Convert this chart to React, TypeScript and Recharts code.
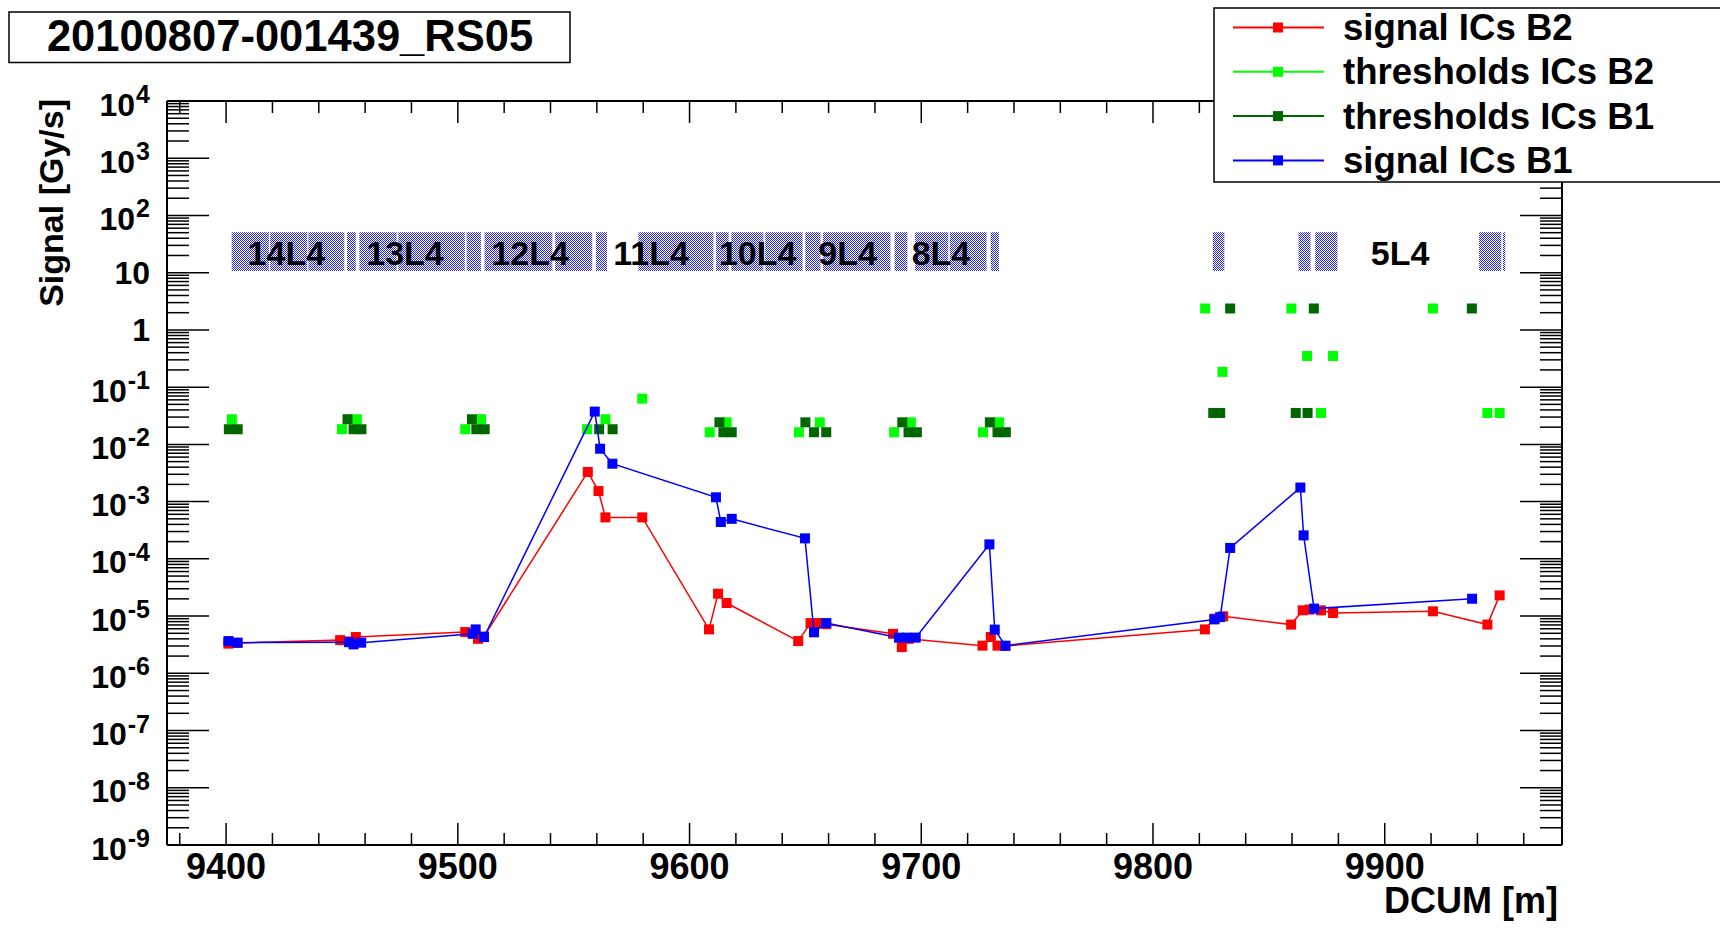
import React from "react";
import { ScatterChart, Scatter, XAxis, YAxis, ReferenceArea } from "recharts";

const FONT = "'Liberation Sans', Arial, Helvetica, sans-serif";

// [DCUM m, Gy/s]
const signalB2: [number, number][] = [
  [9401.0, 3.3e-6], [9405.0, 3.4e-6], [9449.2, 3.8e-6], [9453.0, 3.6e-6],
  [9456.0, 4.3e-6], [9503.2, 5.25e-6], [9508.7, 4.0e-6], [9511.3, 4.4e-6],
  [9556.1, 3.3e-3], [9560.7, 1.53e-3], [9563.7, 5.3e-4], [9579.6, 5.3e-4],
  [9608.4, 5.85e-6], [9612.3, 2.46e-5], [9616.0, 1.69e-5], [9646.9, 3.66e-6],
  [9652.2, 7.55e-6], [9655.1, 7.55e-6], [9659.0, 7.2e-6], [9687.8, 4.9e-6],
  [9691.6, 2.87e-6], [9694.5, 4.0e-6], [9726.4, 3.04e-6], [9730.0, 4.3e-6],
  [9732.9, 3.04e-6], [9736.3, 3.0e-6], [9822.4, 5.85e-6], [9826.5, 9.0e-6],
  [9830.3, 9.9e-6], [9859.6, 7.1e-6], [9864.6, 1.26e-5], [9867.5, 1.3e-5],
  [9872.5, 1.26e-5], [9877.7, 1.13e-5], [9920.8, 1.21e-5], [9944.3, 7.1e-6],
  [9949.6, 2.3e-5],
];

const signalB1: [number, number][] = [
  [9401.0, 3.66e-6], [9404.9, 3.43e-6], [9453.1, 3.5e-6], [9455.0, 3.2e-6],
  [9458.3, 3.43e-6], [9506.4, 4.9e-6], [9507.7, 5.85e-6], [9511.3, 4.3e-6],
  [9559.1, 3.74e-2], [9561.4, 8.4e-3], [9566.7, 4.6e-3], [9611.4, 1.19e-3],
  [9613.5, 4.4e-4], [9618.2, 5.0e-4], [9649.8, 2.28e-4], [9653.7, 5.2e-6],
  [9659.0, 7.55e-6], [9690.4, 4.2e-6], [9694.0, 4.2e-6], [9697.6, 4.2e-6],
  [9729.4, 1.79e-4], [9731.7, 5.8e-6], [9736.3, 3.04e-6], [9826.5, 8.75e-6],
  [9829.0, 9.6e-6], [9833.3, 1.55e-4], [9863.6, 1.76e-3], [9865.0, 2.57e-4],
  [9869.5, 1.35e-5], [9937.7, 2.01e-5],
];

const thresholdsB2: [number, number][] = [
  [9402.5, 2.75e-2], [9450.0, 1.84e-2], [9456.4, 2.75e-2], [9503.2, 1.84e-2],
  [9510.0, 2.75e-2], [9555.8, 1.84e-2], [9563.7, 2.75e-2], [9579.6, 6.3e-2],
  [9608.7, 1.63e-2], [9616.0, 2.43e-2], [9647.2, 1.63e-2], [9656.2, 2.43e-2],
  [9688.3, 1.63e-2], [9695.5, 2.43e-2], [9726.6, 1.63e-2], [9733.6, 2.43e-2],
  [9822.5, 2.37], [9830.0, 0.185], [9859.7, 2.37], [9866.5, 0.35],
  [9872.5, 3.54e-2], [9877.7, 0.35], [9920.8, 2.37], [9944.3, 3.54e-2],
  [9949.6, 3.54e-2],
];

const thresholdsB1: [number, number][] = [
  [9401.2, 1.84e-2], [9405.0, 1.84e-2], [9452.4, 2.75e-2], [9455.0, 1.84e-2],
  [9458.4, 1.84e-2], [9506.1, 2.75e-2], [9508.0, 1.84e-2], [9511.6, 1.84e-2],
  [9561.0, 1.84e-2], [9566.8, 1.84e-2], [9612.9, 2.43e-2], [9614.6, 1.63e-2],
  [9618.2, 1.63e-2], [9650.0, 2.43e-2], [9653.7, 1.63e-2], [9659.0, 1.63e-2],
  [9691.8, 2.43e-2], [9694.5, 1.63e-2], [9698.1, 1.63e-2], [9729.6, 2.43e-2],
  [9732.9, 1.63e-2], [9736.5, 1.63e-2], [9826.0, 3.54e-2], [9829.0, 3.54e-2],
  [9833.3, 2.37], [9861.6, 3.54e-2], [9866.7, 3.54e-2], [9869.4, 2.37],
  [9937.6, 2.37],
];

// magnet element boxes [from, to] in DCUM
const magnetBoxes: [number, number][] = [
  [9402.4, 9418.5], [9419.0, 9435.0], [9435.5, 9451.0], [9452.2, 9456.0],
  [9457.5, 9473.6], [9474.3, 9503.0], [9503.8, 9510.0], [9511.5, 9540.8],
  [9542.0, 9558.0], [9559.6, 9564.4], [9577.9, 9610.3], [9611.4, 9616.9],
  [9618.0, 9631.9], [9632.7, 9648.8], [9649.9, 9656.5], [9657.6, 9686.7],
  [9688.5, 9694.0], [9697.3, 9711.6], [9712.3, 9728.2], [9730.0, 9733.5],
  [9825.8, 9830.8], [9862.8, 9868.0], [9870.0, 9879.6], [9940.7, 9950.3],
  [9951.0, 9952.0],
];
const boxLow = 10.7;
const boxHigh = 51;

const cellNames = ["14L4", "13L4", "12L4", "11L4", "10L4", "9L4", "8L4", "5L4"];
const cellPos = [9426, 9477.2, 9531.2, 9583.4, 9629.4, 9668.2, 9708.5, 9906.6];
const cellLabelY = 22.5;

const xDomain = [9374.5, 9976.5];
const yDomain = [1e-9, 1e4];
const xLabelStep = 100;
const xTicks = Array.from({ length: 30 }, (_, i) => 9380 + 20 * i);
const yTicks: number[] = [];
for (let e = -9; e <= 3; e++) {
  for (let m = 1; m <= 9; m++) yTicks.push(Number((m * 10 ** e).toPrecision(3)));
}
yTicks.push(1e4);

const legendItems = [
  { name: "signal ICs B2", color: "#ff0000" },
  { name: "thresholds ICs B2", color: "#00ff00" },
  { name: "thresholds ICs B1", color: "#006600" },
  { name: "signal ICs B1", color: "#0000ff" },
];

const toPts = (arr: [number, number][]) => arr.map(([x, y]) => ({ x, y }));

const isDecade = (v: number) => {
  const lg = Math.log10(v);
  return Math.abs(lg - Math.round(lg)) < 1e-6;
};

const square = (color: string) => (p: any) =>
  <rect x={p.cx - 5} y={p.cy - 5} width={10} height={10} fill={color} />;

const LeftTick = (props: any) => {
  const { x, y, payload } = props;
  const v = payload.value;
  const major = isDecade(v);
  const e = Math.round(Math.log10(v));
  let label: React.ReactNode = null;
  if (major) {
    if (e === 0 || e === 1) {
      label = (
        <text x={x - 17} y={y + 11.5} textAnchor="end" fontSize={32} fontWeight="bold" fontFamily={FONT} fill="#000">
          {e === 0 ? "1" : "10"}
        </text>
      );
    } else {
      label = (
        <text x={x - 17} y={y + 14.5} textAnchor="end" fontSize={32} fontWeight="bold" fontFamily={FONT} fill="#000">
          10<tspan dx={1} dy={-12.5} fontSize={25}>{String(e)}</tspan>
        </text>
      );
    }
  }
  return (
    <g>
      <line x1={x} x2={x + (major ? 42 : 22)} y1={y} y2={y} stroke="#000" strokeWidth={1.5} />
      {label}
    </g>
  );
};

const RightTick = (props: any) => {
  const { x, y, payload } = props;
  const major = isDecade(payload.value);
  return <line x1={x - (major ? 42 : 22)} x2={x} y1={y} y2={y} stroke="#000" strokeWidth={1.5} />;
};

const BottomTick = (props: any) => {
  const { x, y, payload } = props;
  const major = payload.value % xLabelStep === 0;
  return (
    <g>
      <line x1={x} x2={x} y1={y} y2={y - (major ? 22 : 12)} stroke="#000" strokeWidth={1.5} />
      {major && (
        <text x={x} y={y + 34} textAnchor="middle" fontSize={36} fontWeight="bold" fontFamily={FONT} fill="#000">
          {payload.value}
        </text>
      )}
    </g>
  );
};

const TopTick = (props: any) => {
  const { x, y, payload } = props;
  const major = payload.value % xLabelStep === 0;
  return <line x1={x} x2={x} y1={y} y2={y + (major ? 22 : 12)} stroke="#000" strokeWidth={1.5} />;
};

const CellLabel = (p: any) => (
  <text x={p.cx} y={p.cy} textAnchor="middle" dominantBaseline="central" fontSize={34} fontWeight="bold" fontFamily={FONT} fill="#000">
    {p.payload?.label ?? p.label}
  </text>
);

export default function App() {
  const cellData = cellNames.map((label, i) => ({ x: cellPos[i], y: cellLabelY, label }));
  const axisLine = { stroke: "#000", strokeWidth: 2 };

  return (
    <div style={{ position: "absolute", left: 0, top: 0, width: 1720, height: 936, background: "#fff" }}>
      <ScatterChart width={1720} height={936} margin={{ top: 91, right: 148, bottom: 31, left: 17 }}>
        <defs>
          <pattern id="hatch" width="2" height="2" patternUnits="userSpaceOnUse">
            <rect width="2" height="2" fill="#ffffff" />
            <rect x="0" y="0" width="1" height="1" fill="#2222ff" />
            <rect x="1" y="1" width="1" height="1" fill="#2222ff" />
          </pattern>
        </defs>
        <XAxis
          xAxisId="bottom"
          dataKey="x"
          type="number"
          domain={xDomain}
          allowDataOverflow
          ticks={xTicks}
          interval={0}
          tick={BottomTick}
          tickLine={false}
          tickSize={0}
          tickMargin={0}
          axisLine={axisLine}
          height={60}
        />
        <XAxis
          xAxisId="top"
          orientation="top"
          dataKey="x"
          type="number"
          domain={xDomain}
          allowDataOverflow
          ticks={xTicks}
          interval={0}
          tick={TopTick}
          tickLine={false}
          tickSize={0}
          tickMargin={0}
          axisLine={axisLine}
          height={10}
        />
        <YAxis
          yAxisId="left"
          dataKey="y"
          type="number"
          scale="log"
          domain={yDomain}
          allowDataOverflow
          ticks={yTicks}
          interval={0}
          tick={LeftTick}
          tickLine={false}
          tickSize={0}
          tickMargin={0}
          axisLine={axisLine}
          width={150}
        />
        <YAxis
          yAxisId="right"
          orientation="right"
          dataKey="y"
          type="number"
          scale="log"
          domain={yDomain}
          allowDataOverflow
          ticks={yTicks}
          interval={0}
          tick={RightTick}
          tickLine={false}
          tickSize={0}
          tickMargin={0}
          axisLine={axisLine}
          width={10}
        />
        {magnetBoxes.map(([a, b], i) => (
          <ReferenceArea
            key={i}
            xAxisId="bottom"
            yAxisId="left"
            x1={a}
            x2={b}
            y1={boxLow}
            y2={boxHigh}
            fill="url(#hatch)"
            fillOpacity={1}
            stroke="none"
          />
        ))}
        <Scatter xAxisId="bottom" yAxisId="left" data={cellData} shape={CellLabel} isAnimationActive={false} />
        <Scatter
          xAxisId="bottom"
          yAxisId="left"
          data={toPts(signalB2)}
          line={{ stroke: "#ff0000", strokeWidth: 1.5 }}
          shape={square("#ff0000")}
          isAnimationActive={false}
        />
        <Scatter xAxisId="bottom" yAxisId="left" data={toPts(thresholdsB2)} shape={square("#00ff00")} isAnimationActive={false} />
        <Scatter xAxisId="bottom" yAxisId="left" data={toPts(thresholdsB1)} shape={square("#006600")} isAnimationActive={false} />
        <Scatter
          xAxisId="bottom"
          yAxisId="left"
          data={toPts(signalB1)}
          line={{ stroke: "#0000ff", strokeWidth: 1.5 }}
          shape={square("#0000ff")}
          isAnimationActive={false}
        />
      </ScatterChart>

      <svg width={1720} height={936} style={{ position: "absolute", left: 0, top: 0, pointerEvents: "none" }}>
        {/* title */}
        <rect x={9} y={12} width={561} height={50.5} fill="#fff" stroke="#000" strokeWidth={1.5} />
        <text x={290} y={51} textAnchor="middle" fontSize={43.5} fontWeight="bold" fontFamily={FONT}>
          20100807-001439_RS05
        </text>

        {/* legend */}
        <rect x={1214} y={8} width={520} height={174} fill="#fff" stroke="#000" strokeWidth={1.5} />
        {legendItems.map((it, i) => {
          const cy = 27.5 + i * 44.3;
          return (
            <g key={it.name}>
              <line x1={1233} x2={1324} y1={cy} y2={cy} stroke={it.color} strokeWidth={2} />
              <rect x={1273} y={cy - 5} width={10} height={10} fill={it.color} />
              <text x={1343} y={cy + 12.5} fontSize={36.6} fontWeight="bold" fontFamily={FONT}>
                {it.name}
              </text>
            </g>
          );
        })}

        {/* axis titles */}
        <text x={1558} y={913} textAnchor="end" fontSize={36} fontWeight="bold" fontFamily={FONT}>
          DCUM [m]
        </text>
        <text transform="translate(63, 99) rotate(-90)" textAnchor="end" fontSize={34} fontWeight="bold" fontFamily={FONT}>
          Signal [Gy/s]
        </text>
      </svg>
    </div>
  );
}
